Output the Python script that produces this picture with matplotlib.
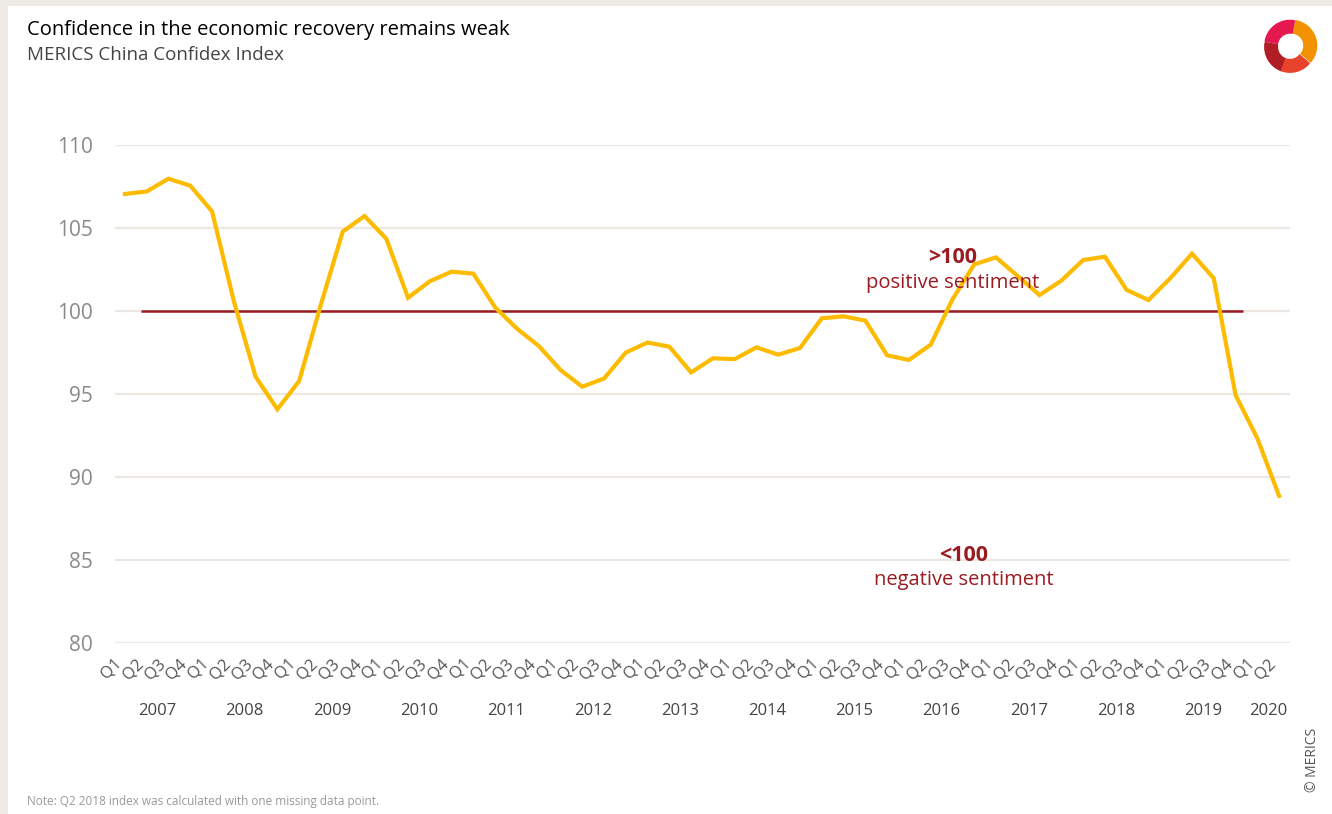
import numpy as np
import matplotlib.pyplot as plt
from matplotlib.patches import Rectangle, Wedge

plt.rcParams['font.family'] = ['Open Sans', 'DejaVu Sans']

years = list(range(2007, 2021))
quarters = ["Q1", "Q2", "Q3", "Q4"] * 13 + ["Q1", "Q2"]

# MERICS China Confidex Index, 2007 Q1 .. 2020 Q2
confidex = [107.05, 107.2, 107.97, 107.55,
            106.0, 100.6, 96.04, 94.08,
            95.78, 100.4, 104.78, 105.72,
            104.36, 100.8, 101.79, 102.37,
            102.25, 100.22, 98.94, 97.9,
            96.45, 95.44, 95.93, 97.5,
            98.1, 97.85, 96.3, 97.15,
            97.1, 97.81, 97.37, 97.77,
            99.56, 99.68, 99.42, 97.33,
            97.05, 97.97, 100.7, 102.81,
            103.23, 102.1, 100.96, 101.83,
            103.07, 103.27, 101.27, 100.66,
            101.97, 103.45, 101.97, 94.94,
            92.33, 88.86]

yellow = "#fdbb00"
darkred = "#9b1b22"
grey = "#8a8a8a"

fig = plt.figure(figsize=(13.32, 8.14), dpi=100, facecolor="#eeeae5")
bg = Rectangle((8/1332, 0), 1 - 8/1332, 1 - 6/814, transform=fig.transFigure,
               facecolor="white", edgecolor="none", zorder=-10)
fig.add_artist(bg)

ax = fig.add_axes([114.7/1332, 1 - 643/814, (1290 - 114.7)/1332, (643 - 145)/814])
ax.set_facecolor("none")
x = np.arange(len(confidex))

ax.set_ylim(80, 110)
ax.set_xlim(-0.47, 53.5)
ax.set_yticks(range(80, 111, 5))
ax.grid(axis="y", color="#ece7e2", lw=1.6)
ax.set_axisbelow(True)
for s in ax.spines.values():
    s.set_visible(False)
ax.tick_params(axis="both", length=0)
ax.tick_params(axis="y", labelsize=15, labelcolor=grey, pad=16)

ax.hlines(100, 0.73, 51.35, color=darkred, lw=1.8, zorder=2)
ax.plot(x, confidex, color=yellow, lw=3, zorder=3, solid_joinstyle="miter")

ax.set_xticks(x)
ax.set_xticklabels(quarters, rotation=45, ha="right", va="top", fontsize=12, color="#555555")
ax.tick_params(axis="x", pad=9)

for i, yr in enumerate(years):
    pos = 4*i + 1.5 if yr < 2020 else 52.5
    ax.text(pos, -0.137, str(yr), transform=ax.get_xaxis_transform(), ha="center", va="center",
            fontsize=12, color="#444444")

ax.text(38, 103.25, ">100", ha="center", va="center", fontsize=15.5, fontweight="bold", color=darkred)
ax.text(38, 101.7, "positive sentiment", ha="center", va="center", fontsize=14.5, color=darkred)
ax.text(38.5, 85.3, "<100", ha="center", va="center", fontsize=15.5, fontweight="bold", color=darkred)
ax.text(38.5, 83.8, "negative sentiment", ha="center", va="center", fontsize=14.5, color=darkred)

fig.text(27/1332, 1 - 30/814, "Confidence in the economic recovery remains weak", ha="left", va="center",
         fontsize=14.5, color="black")
fig.text(27/1332, 1 - 55/814, "MERICS China Confidex Index", ha="left", va="center",
         fontsize=13.5, color="#444444")
fig.text(27/1332, 1 - 802/814, "Note: Q2 2018 index was calculated with one missing data point.",
         ha="left", va="center", fontsize=8.5, color="#999999")
fig.text(1313/1332, 1 - 760/814, "© MERICS", rotation=90, ha="center", va="center",
         fontsize=10, color="#555555")

# rough logo
lg = fig.add_axes([1262/1332, 1 - 75/814, 56/1332, 56/814])
lg.set_xlim(-1, 1)
lg.set_ylim(-1, 1)
lg.set_aspect("equal")
lg.axis("off")
lg.add_patch(Wedge((0.05, 0.05), 0.9, -40, 80, width=0.45, color="#f39200"))
lg.add_patch(Wedge((0.0, 0.05), 0.9, 80, 170, width=0.45, color="#e5184f"))
lg.add_patch(Wedge((0.0, 0.0), 0.9, 170, 250, width=0.45, color="#b01d24"))
lg.add_patch(Wedge((0.0, 0.0), 0.9, 250, 320, width=0.45, color="#e8432c"))

fig.savefig("out.png", dpi=100, facecolor=fig.get_facecolor())
